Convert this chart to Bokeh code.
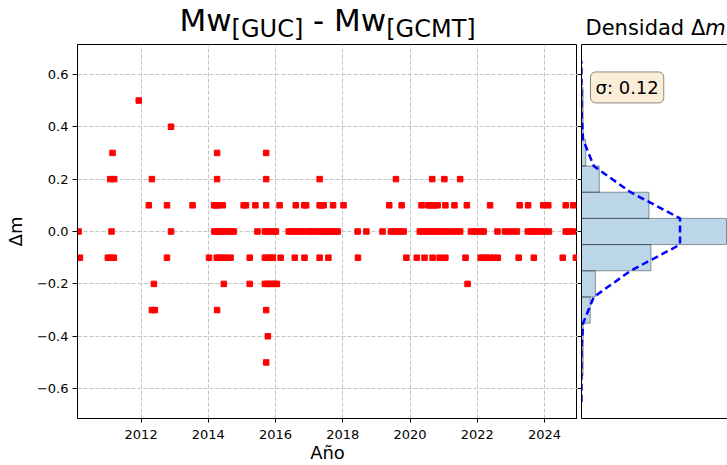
from bokeh.plotting import figure
from bokeh.layouts import row, column
from bokeh.models import Range1d, FixedTicker, LinearAxis, Label, CustomJSTickFormatter, ColumnDataSource
from bokeh.embed import file_html
from bokeh.resources import INLINE

# ---------------- data ----------------
# decimal-year dates for each Δm level
yr_p05 = [2011.93]
yr_p04 = [2012.89]
yr_p03 = [2011.15, 2014.26, 2015.72]
yr_p02 = [2011.08, 2011.20, 2012.32, 2014.26, 2015.72, 2017.31, 2019.58, 2020.66, 2021.02, 2021.49]
yr_p01 = [2012.23, 2012.77, 2013.53, 2014.17, 2014.23, 2014.29, 2014.43, 2015.05, 2015.12, 2015.40,
          2015.72, 2016.12, 2016.60, 2016.85, 2016.91, 2017.31, 2017.37, 2017.43, 2017.71, 2018.02,
          2019.38, 2019.75, 2020.34, 2020.53, 2020.60, 2020.67, 2020.74, 2020.82, 2021.05, 2021.32,
          2021.69, 2022.38, 2023.26, 2023.51, 2023.96, 2024.11, 2024.63, 2024.85]
yr_0 = [2010.14, 2011.12, 2012.89, 2014.18, 2014.25, 2014.33, 2014.40, 2014.49, 2014.58, 2014.67,
        2014.76, 2015.46, 2015.68, 2015.77, 2015.86, 2015.95, 2016.01, 2016.39, 2016.48, 2016.57,
        2016.66, 2016.75, 2016.87, 2016.99, 2017.08, 2017.20, 2017.31, 2017.40, 2017.49, 2017.58,
        2017.67, 2017.76, 2017.85, 2018.44, 2018.70, 2019.18, 2019.43, 2019.52, 2019.61, 2019.70,
        2019.81, 2020.29, 2020.38, 2020.47, 2020.56, 2020.65, 2020.74, 2020.83, 2020.92, 2021.01,
        2021.13, 2021.25, 2021.37, 2021.49, 2021.81, 2021.90, 2021.99, 2022.11, 2022.19, 2022.60,
        2022.82, 2022.94, 2023.06, 2023.18, 2023.50, 2023.59, 2023.68, 2023.77, 2023.89, 2024.01,
        2024.13, 2024.63, 2024.72, 2024.84]
yr_m01 = [2010.18, 2011.01, 2011.10, 2011.19, 2012.77, 2014.02, 2014.25, 2014.34, 2014.43, 2014.52,
          2014.66, 2015.23, 2015.68, 2015.77, 2015.86, 2015.92, 2016.15, 2016.57, 2016.86, 2017.31,
          2017.57, 2018.45, 2019.89, 2020.20, 2020.43, 2020.67, 2020.88, 2021.05, 2021.65, 2022.10,
          2022.19, 2022.28, 2022.37, 2022.49, 2022.61, 2023.23, 2023.68, 2024.54, 2024.93]
yr_m02 = [2012.38, 2014.46, 2015.23, 2015.68, 2015.77, 2015.86, 2015.95, 2016.04, 2021.71]
yr_m03 = [2012.32, 2012.41, 2014.26, 2015.72]
yr_m04 = [2015.77]
yr_m05 = [2015.72]

dm_levels = [0.5, 0.4, 0.3, 0.2, 0.1, 0.0, -0.1, -0.2, -0.3, -0.4, -0.5]
dm_dates = [yr_p05, yr_p04, yr_p03, yr_p02, yr_p01, yr_0, yr_m01, yr_m02, yr_m03, yr_m04, yr_m05]

# histogram (density) of Δm, bins of width 0.1
hist_centers = [-0.5, -0.4, -0.3, -0.2, -0.1, 0.0, 0.1, 0.2, 0.3, 0.4, 0.5]
hist_density = [0.05, 0.05, 0.27, 0.43, 2.15, 4.49, 2.09, 0.55, 0.13, 0.05, 0.05]
bin_width = 0.1

# fitted normal curve, sampled at the bin edges
gauss_dm = [-0.65, -0.55, -0.45, -0.35, -0.25, -0.15, -0.05, 0.05, 0.15, 0.25, 0.35, 0.45, 0.55, 0.65]
gauss_density = [0.0, 0.0, 0.003, 0.05, 0.38, 1.52, 3.05, 3.05, 1.52, 0.38, 0.05, 0.003, 0.0, 0.0]
sigma_text = "σ: 0.12"

year_ticks = [2012, 2014, 2016, 2018, 2020, 2022, 2024]
dm_ticks = [-0.6, -0.4, -0.2, 0.0, 0.2, 0.4, 0.6]

# ---------------- build ----------------
FONT = "DejaVu Sans"
xs, ys = [], []
for lvl, dates in zip(dm_levels, dm_dates):
    xs += dates
    ys += [lvl] * len(dates)
src = ColumnDataSource(dict(year=xs, dm=ys))

X0, X1 = 2010.108, 2024.98
Y0, Y1 = -0.714, 0.714
yr = Range1d(Y0, Y1)

TOP = 44          # height of the title strip
PH = 465 - TOP    # height of the plot row


def lab(p, text, x, y, size, style="normal", align="left", baseline="middle", **kw):
    p.add_layout(Label(x=x, y=y, text=text, text_font=FONT,
                       text_font_size=size, text_font_style=style, text_align=align,
                       text_baseline=baseline, text_color="black", **kw))


# ---------------- title strip (pixel coordinates, y measured upward) ----------------
pt = figure(width=727, height=TOP, x_range=Range1d(0, 727), y_range=Range1d(0, TOP),
            output_backend="svg", toolbar_location=None,
            x_axis_location=None, y_axis_location=None, min_border=0)
pt.outline_line_color = None
pt.grid.visible = False
lab(pt, "Mw", 179, 24.7, "31px")
lab(pt, "[GUC]", 231.1, 15.3, "24px")
lab(pt, "-", 318.2, 24.7, "31px", align="center")
lab(pt, "Mw", 333.6, 24.7, "31px")
lab(pt, "[GCMT]", 385.7, 15.3, "24px")
lab(pt, "Densidad Δ", 585, 16.3, "21px")
lab(pt, "m", 704.7, 16.3, "21px", style="italic")

# ---------------- scatter panel ----------------
p1 = figure(width=577, height=PH, x_range=Range1d(X0, X1), y_range=yr,
            output_backend="svg", toolbar_location=None,
            min_border_left=77, min_border_right=0, min_border_top=0, min_border_bottom=46)
p1.outline_line_color = "black"
p1.outline_line_width = 1
p1.outline_line_alpha = 1

p1.scatter(x="year", y="dm", source=src, marker="square", size=5.5,
           fill_color="red", line_color="red")

p1.xaxis.ticker = FixedTicker(ticks=year_ticks)
p1.yaxis.ticker = FixedTicker(ticks=dm_ticks)
p1.yaxis.formatter = CustomJSTickFormatter(code="return tick.toFixed(1).replace('-', '\\u2212');")
for ax in p1.axis:
    ax.major_tick_in = 0
    ax.minor_tick_in = 0
    ax.minor_tick_out = 0
    ax.major_label_text_font = FONT
    ax.major_label_text_font_size = "13px"
    ax.major_label_text_color = "black"
    ax.axis_line_color = "black"
    ax.major_tick_line_color = "black"
    ax.axis_label_text_font = FONT
    ax.axis_label_text_font_size = "18px"
    ax.axis_label_text_font_style = "normal"
    ax.axis_label_text_color = "black"
p1.xaxis.major_tick_out = 4
p1.xaxis.major_label_standoff = 7
p1.xaxis.axis_label = "Año"
p1.xaxis.axis_label_standoff = 0
p1.yaxis.major_tick_out = 5
p1.yaxis.major_label_standoff = 4
p1.yaxis.axis_label = "Δm"
p1.yaxis.axis_label_standoff = 8

p1.grid.grid_line_color = "#c4c4c4"
p1.grid.grid_line_dash = "4 2"
p1.grid.grid_line_width = 1

# ---------------- histogram panel ----------------
p2 = figure(width=150, height=PH, x_range=Range1d(0, 4.52), y_range=yr,
            output_backend="svg", toolbar_location=None,
            x_axis_location=None, y_axis_location=None,
            min_border_left=4, min_border_right=0, min_border_top=0, min_border_bottom=46)
p2.outline_line_color = None
p2.grid.visible = False

empty = "return '';"
left = LinearAxis(ticker=FixedTicker(ticks=dm_ticks), formatter=CustomJSTickFormatter(code=empty),
                  major_tick_out=4, major_tick_in=0, minor_tick_out=0, minor_tick_in=0,
                  major_label_standoff=0, axis_line_color="black", major_tick_line_color="black")
p2.add_layout(left, "left")
for loc in ("above", "below"):
    ax = LinearAxis(formatter=CustomJSTickFormatter(code=empty), major_tick_out=0, major_tick_in=0,
                    minor_tick_out=0, minor_tick_in=0, major_label_standoff=0,
                    axis_line_color="black")
    p2.add_layout(ax, loc)

p2.hbar(y=hist_centers, height=bin_width, left=0, right=hist_density,
        fill_color="#1f77b4", fill_alpha=0.3, line_color="black", line_alpha=0.4, line_width=1)
p2.line(gauss_density, gauss_dm, line_color="blue", line_width=2.5, line_dash="7 4")

p2.add_layout(Label(x=0, y=0.55, x_offset=9, text=sigma_text, text_font=FONT,
                    text_font_size="18px", text_baseline="middle", text_color="black",
                    background_fill_color="#f5deb3", background_fill_alpha=0.5,
                    border_line_color="black", border_line_alpha=0.45, border_line_width=1,
                    padding=5, border_radius=5))

layout = column(pt, row(p1, p2))
open("out.html", "w").write(file_html(layout, INLINE))
